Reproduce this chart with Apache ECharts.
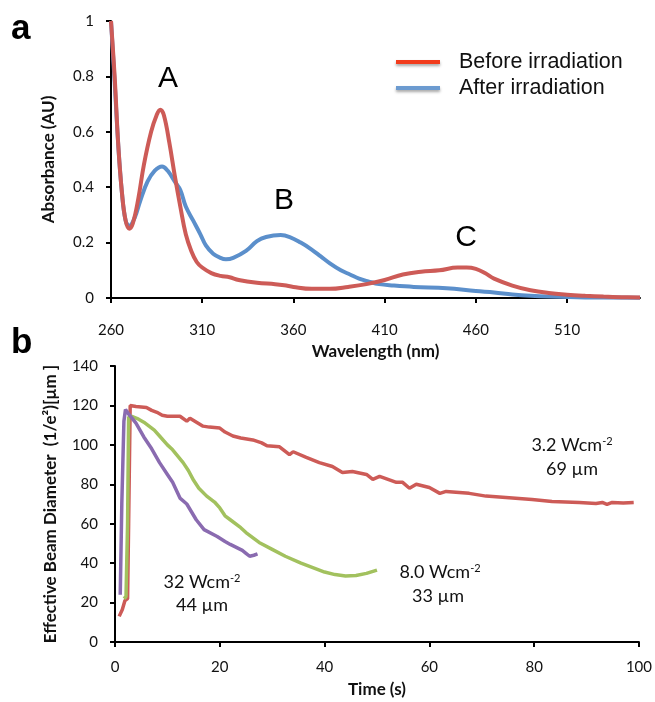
<!DOCTYPE html>
<html>
<head>
<meta charset="utf-8">
<script src="https://cdn.jsdelivr.net/npm/echarts@6/dist/echarts.min.js"></script>
<style>
html, body { margin: 0; padding: 0; background: #fff; }
#main { width: 655px; height: 702px; }
</style>
</head>
<body>
<div id="main"></div>
<script>
// panel a: absorbance spectra
var beforeWl  = [260,262,264,266,268,270,272,275,278,282,285,287,289,292,295,298,301,304,307,310,315,320,325,330,340,350,355,360,370,380,390,400,410,420,430,440,450,455,460,465,470,480,490,500,510,520,530,540,550];
var beforeAbs = [1.0,0.8,0.55,0.38,0.28,0.25,0.27,0.36,0.48,0.6,0.66,0.68,0.66,0.56,0.44,0.33,0.23,0.17,0.13,0.11,0.09,0.08,0.075,0.065,0.055,0.05,0.046,0.04,0.033,0.033,0.04,0.05,0.065,0.085,0.095,0.1,0.11,0.11,0.105,0.09,0.07,0.045,0.028,0.018,0.012,0.008,0.005,0.003,0.002];
var afterWl   = [260,262,264,266,268,270,273,276,280,284,288,291,295,298,301,305,309,312,316,320,323,327,334,340,345,353,358,364,370,375,380,386,391,396,401,407,415,426,444,460,470,480,490,500,520,550];
var afterAbs  = [1.0,0.78,0.55,0.38,0.28,0.26,0.29,0.35,0.42,0.46,0.475,0.46,0.42,0.39,0.33,0.28,0.23,0.19,0.16,0.145,0.14,0.145,0.17,0.205,0.22,0.227,0.22,0.2,0.175,0.15,0.125,0.1,0.085,0.07,0.06,0.05,0.045,0.04,0.035,0.025,0.02,0.013,0.008,0.005,0.002,0.001];
var wlTicks = [260,310,360,410,460,510];

// panel b: effective beam diameter vs time
var redT = [0.8,1.4,1.9,2.4,2.6,2.9,4,6,7,8,9,10,12.4,13.7,14.3,16.8,18,20,21,22.5,24,26.3,28,29,31.4,33.3,34,36.5,39,41.5,43.4,45.3,48,49.2,50.5,53.7,54.9,56.2,57.5,60,62,63.2,67.6,70.8,74.6,79.6,83.4,88.6,91.8,93,93.9,94.9,97,99];
var redD = [13,16.5,21,22,60,120,119.5,119,117.5,116.5,115,114.5,114.5,112,113.5,109.5,109,108.5,106.5,104.5,103.5,102.5,101,99.5,99,95,96.5,93.7,91,89,86,86.5,85,82.5,84,81,81,78,80,78.4,75.4,76.4,75.4,74,73.3,72.3,71.3,70.8,70.3,70.8,69.8,70.8,70.5,70.8];
var greenT = [1.7,2.1,2.4,2.6,3.2,4.5,5.5,6.5,7.5,8.5,10,11,13,14,15,16,17.5,19,20,21,22,24,25,27.5,30,32.5,35.5,38,40,42,44,46,48,50];
var greenD = [22,23,60,114,114.5,113,111.5,109.5,107.5,104.5,100,97.5,91,87,82,78,74,71,68,64,62,58,55.5,50.5,47,43.5,40,37.5,35.5,34.2,33.5,33.7,34.8,36.5];
var purpleT = [1.0,1.3,1.7,2.0,2.5,4,5.5,7,8.5,10,11,12.4,13.7,15.5,17,19.5,21,22,24.3,25,25.7,26.5,27.2];
var purpleD = [24,70,112,118,116,111,104,98,91,85,81,73,70,62,57,53.5,51,49.5,46.5,45,43.5,44,44.7];

function pairs(xs, ys) {
  var out = [];
  for (var i = 0; i < xs.length; i++) out.push([xs[i], ys[i]]);
  return out;
}

var RED = '#cd5b57', BLUE = '#5b8fcb', GREEN = '#a2c15e', PURPLE = '#8a6bb0';
var calib = 'Lato';
var arial = 'Liberation Sans';

var chart = echarts.init(document.getElementById('main'));

var axisLineStyle = { lineStyle: { color: '#000', width: 2 } };
var tickStyle = { show: true, inside: false, length: 5, lineStyle: { color: '#000', width: 2 } };
var labelStyle = { color: '#111', fontFamily: calib, fontSize: 15 };
var nameStyle = { color: '#111', fontFamily: calib, fontSize: 17, fontWeight: 'bold' };

// superscript helper for the annotation labels
var supRich = {
  t: { fontFamily: calib, fontSize: 18, fill: '#111' },
  s: { fontFamily: calib, fontSize: 11, fill: '#111', verticalAlign: 'top', padding: [0, 0, 8, 0] }
};

var option = {
  animation: false,
  backgroundColor: '#fff',
  grid: [
    { left: 111, top: 21, width: 529, height: 277 },
    { left: 115, top: 366, width: 525, height: 276 }
  ],
  xAxis: [
    {
      gridIndex: 0, type: 'value', min: 260, max: 550, interval: 50,
      axisLine: axisLineStyle,
      axisTick: Object.assign({ customValues: wlTicks }, tickStyle),
      axisLabel: Object.assign({ customValues: wlTicks, margin: 25 }, labelStyle),
      splitLine: { show: false },
      name: 'Wavelength (nm)', nameLocation: 'middle', nameGap: 45, nameTextStyle: nameStyle
    },
    {
      gridIndex: 1, type: 'value', min: 0, max: 100, interval: 20,
      axisLine: axisLineStyle, axisTick: tickStyle,
      axisLabel: Object.assign({ margin: 18 }, labelStyle),
      splitLine: { show: false },
      name: 'Time (s)', nameLocation: 'middle', nameGap: 39, nameTextStyle: nameStyle
    }
  ],
  yAxis: [
    {
      gridIndex: 0, type: 'value', min: 0, max: 1, interval: 0.2,
      axisLine: axisLineStyle, axisTick: tickStyle,
      axisLabel: Object.assign({ margin: 17 }, labelStyle),
      splitLine: { show: false },
      name: 'Absorbance (AU)', nameLocation: 'middle', nameGap: 54, nameTextStyle: nameStyle
    },
    {
      gridIndex: 1, type: 'value', min: 0, max: 140, interval: 20,
      axisLine: axisLineStyle, axisTick: tickStyle,
      axisLabel: Object.assign({ margin: 17 }, labelStyle),
      splitLine: { show: false },
      name: 'Effective Beam Diameter  (1/e\u00b2)[\u00b5m ]', nameLocation: 'middle', nameGap: 56, nameTextStyle: nameStyle
    }
  ],
  legend: {
    orient: 'vertical', left: 391, top: 46,
    itemWidth: 44, itemHeight: 4, itemGap: 4,
    textStyle: { fontFamily: arial, fontSize: 21.5, color: '#111', lineHeight: 22, padding: [0, 0, 0, 14] },
    data: [
      { name: 'Before irradiation', icon: 'rect', itemStyle: { color: '#f23c1c', shadowBlur: 3, shadowOffsetY: 2, shadowColor: 'rgba(0,0,0,0.35)' } },
      { name: 'After irradiation', icon: 'rect', itemStyle: { color: '#6c9bd0', shadowBlur: 3, shadowOffsetY: 2, shadowColor: 'rgba(0,0,0,0.35)' } }
    ]
  },
  graphic: [
    { type: 'text', left: 11, top: 12, style: { text: 'a', fontFamily: arial, fontWeight: 'bold', fontSize: 35, fill: '#000' } },
    { type: 'text', left: 11, top: 326, style: { text: 'b', fontFamily: arial, fontWeight: 'bold', fontSize: 35, fill: '#000' } },
    { type: 'text', x: 168, y: 79, style: { text: 'A', fontFamily: arial, fontSize: 30, fill: '#000', align: 'center', verticalAlign: 'middle' } },
    { type: 'text', x: 284, y: 201, style: { text: 'B', fontFamily: arial, fontSize: 30, fill: '#000', align: 'center', verticalAlign: 'middle' } },
    { type: 'text', x: 466, y: 238, style: { text: 'C', fontFamily: arial, fontSize: 30, fill: '#000', align: 'center', verticalAlign: 'middle' } },
    { type: 'text', x: 572, y: 445, style: { text: '{t|3.2 Wcm}{s|-2}', align: 'center', verticalAlign: 'middle', rich: supRich } },
    { type: 'text', x: 572, y: 469, style: { text: '69 \u00b5m', fontFamily: calib, fontSize: 18, fill: '#111', align: 'center', verticalAlign: 'middle' } },
    { type: 'text', x: 202, y: 582, style: { text: '{t|32 Wcm}{s|-2}', align: 'center', verticalAlign: 'middle', rich: supRich } },
    { type: 'text', x: 202, y: 605, style: { text: '44 \u00b5m', fontFamily: calib, fontSize: 18, fill: '#111', align: 'center', verticalAlign: 'middle' } },
    { type: 'text', x: 440, y: 572, style: { text: '{t|8.0 Wcm}{s|-2}', align: 'center', verticalAlign: 'middle', rich: supRich } },
    { type: 'text', x: 438, y: 596, style: { text: '33 \u00b5m', fontFamily: calib, fontSize: 18, fill: '#111', align: 'center', verticalAlign: 'middle' } }
  ],
  series: [
    {
      name: 'After irradiation', type: 'line', xAxisIndex: 0, yAxisIndex: 0,
      data: pairs(afterWl, afterAbs), smooth: 0.4, symbol: 'none',
      lineStyle: { color: BLUE, width: 4 }, itemStyle: { color: BLUE }
    },
    {
      name: 'Before irradiation', type: 'line', xAxisIndex: 0, yAxisIndex: 0,
      data: pairs(beforeWl, beforeAbs), smooth: 0.4, symbol: 'none',
      lineStyle: { color: RED, width: 4 }, itemStyle: { color: RED }
    },
    {
      name: '3.2 Wcm-2', type: 'line', xAxisIndex: 1, yAxisIndex: 1,
      data: pairs(redT, redD), symbol: 'none',
      lineStyle: { color: RED, width: 3.5 }
    },
    {
      name: '8.0 Wcm-2', type: 'line', xAxisIndex: 1, yAxisIndex: 1,
      data: pairs(greenT, greenD), symbol: 'none',
      lineStyle: { color: GREEN, width: 3.5 }
    },
    {
      name: '32 Wcm-2', type: 'line', xAxisIndex: 1, yAxisIndex: 1,
      data: pairs(purpleT, purpleD), symbol: 'none',
      lineStyle: { color: PURPLE, width: 3.5 }
    }
  ]
};

chart.setOption(option);
</script>
</body>
</html>
